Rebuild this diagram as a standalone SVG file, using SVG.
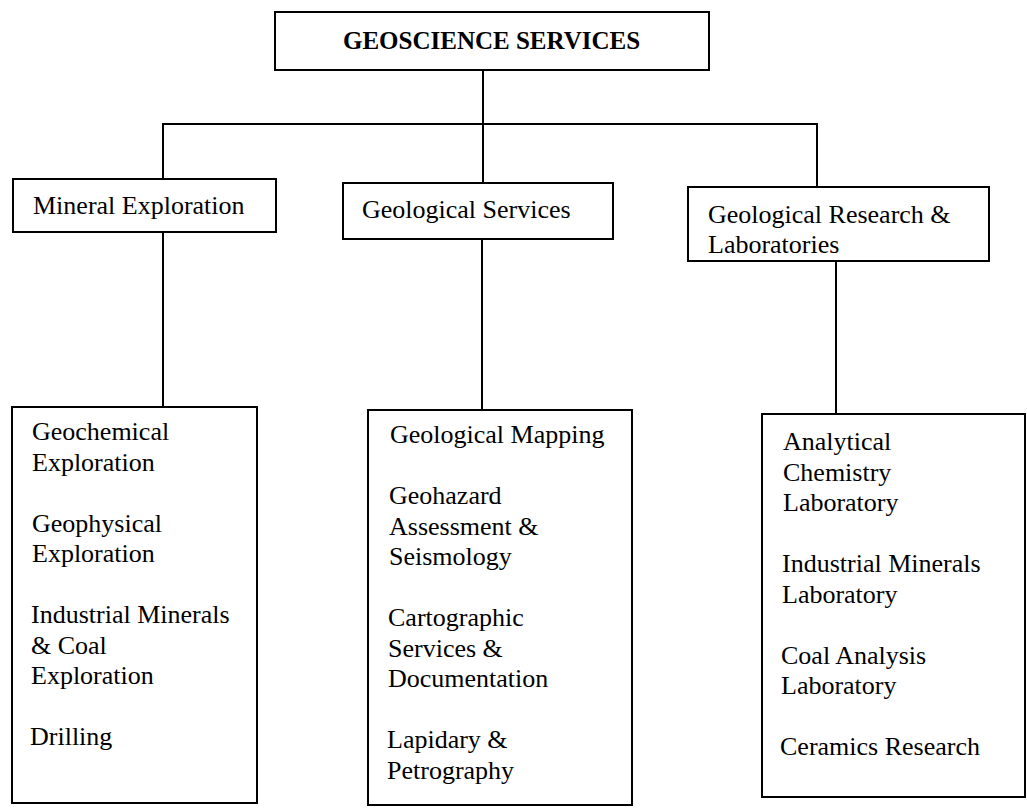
<svg xmlns="http://www.w3.org/2000/svg" width="1027" height="808" viewBox="0 0 1027 808">
  <style>
    .box { fill: #ffffff; stroke: #000000; stroke-width: 2; }
    .link { fill: none; stroke: #000000; stroke-width: 2; }
    .label { font-family: "Liberation Serif", "Times New Roman", serif; font-size: 26px; fill: #000000; }
    .title { font-family: "Liberation Serif", "Times New Roman", serif; font-size: 25px; font-weight: bold; fill: #000000; }
  </style>
  <rect width="1027" height="808" fill="#ffffff"/>

  <!-- connectors -->
  <g id="connectors">
    <path class="link" d="M483,70 V183"/>
    <path class="link" d="M163,179 V124 H817 V187"/>
    <path class="link" d="M163,232 V407"/>
    <path class="link" d="M482,239 V410"/>
    <path class="link" d="M836,261 V414"/>
  </g>

  <!-- root -->
  <g id="geoscience-services">
    <rect class="box" x="275" y="12" width="434" height="58"/>
    <text class="title" x="343" y="49">GEOSCIENCE SERVICES</text>
  </g>

  <!-- divisions -->
  <g id="mineral-exploration">
    <rect class="box" x="13" y="179" width="263" height="53"/>
    <text class="label" x="33" y="214">Mineral Exploration</text>
  </g>
  <g id="geological-services">
    <rect class="box" x="343" y="183" width="270" height="56"/>
    <text class="label" x="362" y="218">Geological Services</text>
  </g>
  <g id="geological-research">
    <rect class="box" x="688" y="187" width="301" height="74"/>
    <text class="label" x="708" y="223">Geological Research &amp;</text>
    <text class="label" x="708" y="253">Laboratories</text>
  </g>

  <!-- sections -->
  <g id="mineral-exploration-units">
    <rect class="box" x="12" y="407" width="245" height="396"/>
    <text class="label" x="32" y="440">Geochemical</text>
    <text class="label" x="32" y="470.5">Exploration</text>
    <text class="label" x="32" y="531.5">Geophysical</text>
    <text class="label" x="32" y="562">Exploration</text>
    <text class="label" x="31" y="623">Industrial Minerals</text>
    <text class="label" x="31" y="653.5">&amp; Coal</text>
    <text class="label" x="31" y="684">Exploration</text>
    <text class="label" x="30" y="745">Drilling</text>
  </g>
  <g id="geological-services-units">
    <rect class="box" x="368" y="410" width="264" height="395"/>
    <text class="label" x="390" y="443">Geological Mapping</text>
    <text class="label" x="389" y="504">Geohazard</text>
    <text class="label" x="389" y="534.5">Assessment &amp;</text>
    <text class="label" x="389" y="565">Seismology</text>
    <text class="label" x="388" y="626">Cartographic</text>
    <text class="label" x="388" y="656.5">Services &amp;</text>
    <text class="label" x="388" y="687">Documentation</text>
    <text class="label" x="387" y="748">Lapidary &amp;</text>
    <text class="label" x="387" y="778.5">Petrography</text>
  </g>
  <g id="research-laboratories-units">
    <rect class="box" x="762" y="414" width="263" height="383"/>
    <text class="label" x="783" y="450">Analytical</text>
    <text class="label" x="783" y="480.5">Chemistry</text>
    <text class="label" x="783" y="511">Laboratory</text>
    <text class="label" x="782" y="572">Industrial Minerals</text>
    <text class="label" x="782" y="602.5">Laboratory</text>
    <text class="label" x="781" y="663.5">Coal Analysis</text>
    <text class="label" x="781" y="694">Laboratory</text>
    <text class="label" x="780" y="755">Ceramics Research</text>
  </g>
</svg>
